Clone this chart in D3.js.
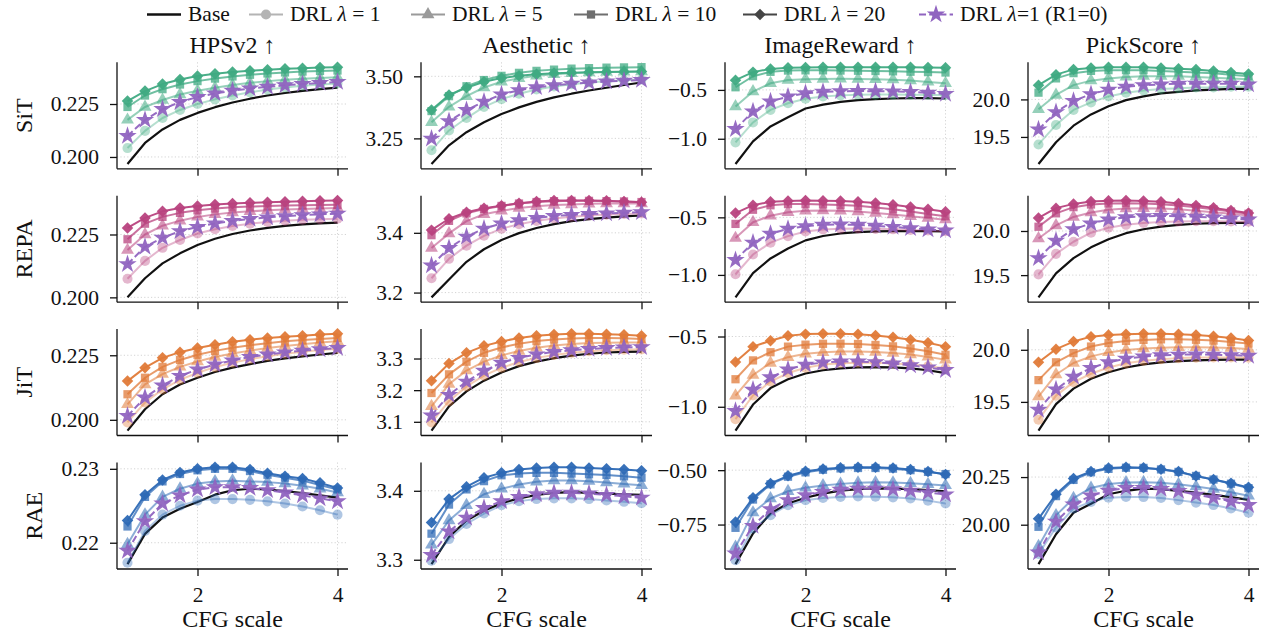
<!DOCTYPE html>
<html>
<head>
<meta charset="utf-8">
<script src="https://cdn.jsdelivr.net/npm/d3@7"></script>
<style>
  html, body { margin: 0; padding: 0; background: #fff; }
  svg { display: block; }
  svg text { font-family: "Liberation Serif", "DejaVu Serif", serif; }
</style>
</head>
<body>
<svg id="chart" width="1262" height="635"></svg>
<script>
// ---------- data ----------
const cfgScale = [1, 1.25, 1.5, 1.75, 2, 2.25, 2.5, 2.75, 3, 3.25, 3.5, 3.75, 4];
const xTicks = [2, 4];
const models = ["SiT", "REPA", "JiT", "RAE"];
const metrics = ["HPSv2", "Aesthetic", "ImageReward", "PickScore"];
const seriesLabels = ["Base", "DRL λ = 1", "DRL λ = 5", "DRL λ = 10", "DRL λ = 20", "DRL λ=1 (R1=0)"];

// series order in every panel: Base, λ=1, λ=5, λ=10, λ=20, λ=1 (R1=0)
const sitHPSv2 = [
  [0.1967, 0.2066, 0.2130, 0.2175, 0.2208, 0.2235, 0.2257, 0.2275, 0.2290, 0.2302, 0.2312, 0.2320, 0.2327],
  [0.2042, 0.2123, 0.2184, 0.2222, 0.2250, 0.2272, 0.2290, 0.2305, 0.2318, 0.2328, 0.2336, 0.2342, 0.2347],
  [0.2175, 0.2236, 0.2269, 0.2295, 0.2313, 0.2327, 0.2340, 0.2350, 0.2358, 0.2364, 0.2369, 0.2373, 0.2376],
  [0.2236, 0.2290, 0.2320, 0.2342, 0.2358, 0.2370, 0.2380, 0.2388, 0.2394, 0.2399, 0.2403, 0.2406, 0.2408],
  [0.2264, 0.2311, 0.2344, 0.2366, 0.2382, 0.2393, 0.2401, 0.2407, 0.2412, 0.2416, 0.2419, 0.2422, 0.2424],
  [0.2099, 0.2175, 0.2226, 0.2259, 0.2283, 0.2300, 0.2313, 0.2323, 0.2331, 0.2338, 0.2344, 0.2349, 0.2354]
];
const sitAesthetic = [
  [3.147, 3.222, 3.275, 3.315, 3.348, 3.375, 3.397, 3.415, 3.430, 3.443, 3.454, 3.465, 3.475],
  [3.202, 3.282, 3.332, 3.377, 3.408, 3.430, 3.447, 3.459, 3.468, 3.475, 3.480, 3.484, 3.487],
  [3.315, 3.377, 3.420, 3.455, 3.478, 3.492, 3.502, 3.508, 3.512, 3.515, 3.517, 3.518, 3.519],
  [3.360, 3.420, 3.460, 3.485, 3.502, 3.514, 3.522, 3.527, 3.531, 3.533, 3.535, 3.536, 3.537],
  [3.364, 3.425, 3.454, 3.478, 3.493, 3.502, 3.508, 3.512, 3.514, 3.516, 3.517, 3.518, 3.519],
  [3.249, 3.319, 3.364, 3.398, 3.427, 3.444, 3.456, 3.464, 3.470, 3.475, 3.479, 3.482, 3.485]
];
const sitImageReward = [
  [-1.258, -1.027, -0.874, -0.779, -0.690, -0.650, -0.622, -0.604, -0.594, -0.588, -0.585, -0.585, -0.588],
  [-1.037, -0.833, -0.704, -0.636, -0.590, -0.568, -0.556, -0.550, -0.548, -0.548, -0.549, -0.551, -0.553],
  [-0.670, -0.517, -0.432, -0.398, -0.391, -0.388, -0.387, -0.388, -0.390, -0.395, -0.405, -0.418, -0.432],
  [-0.473, -0.360, -0.315, -0.302, -0.300, -0.300, -0.302, -0.304, -0.307, -0.310, -0.314, -0.318, -0.322],
  [-0.400, -0.318, -0.285, -0.274, -0.270, -0.268, -0.267, -0.267, -0.267, -0.268, -0.269, -0.270, -0.272],
  [-0.901, -0.721, -0.619, -0.568, -0.534, -0.520, -0.514, -0.512, -0.513, -0.516, -0.521, -0.530, -0.541]
];
const sitPickScore = [
  [19.14, 19.43, 19.65, 19.80, 19.91, 19.99, 20.04, 20.08, 20.10, 20.12, 20.13, 20.14, 20.14],
  [19.40, 19.66, 19.86, 19.96, 20.04, 20.09, 20.12, 20.14, 20.15, 20.16, 20.16, 20.17, 20.17],
  [19.87, 20.06, 20.19, 20.25, 20.28, 20.30, 20.31, 20.31, 20.31, 20.30, 20.29, 20.28, 20.27],
  [20.09, 20.28, 20.35, 20.38, 20.39, 20.39, 20.39, 20.38, 20.37, 20.36, 20.35, 20.33, 20.31],
  [20.19, 20.33, 20.40, 20.42, 20.43, 20.43, 20.43, 20.42, 20.41, 20.40, 20.38, 20.36, 20.34],
  [19.60, 19.83, 19.98, 20.07, 20.13, 20.17, 20.19, 20.20, 20.21, 20.21, 20.21, 20.21, 20.20]
];

const repaHPSv2 = [
  [0.2000, 0.2076, 0.2135, 0.2175, 0.2208, 0.2233, 0.2252, 0.2266, 0.2276, 0.2284, 0.2290, 0.2294, 0.2297],
  [0.2074, 0.2145, 0.2197, 0.2228, 0.2254, 0.2271, 0.2284, 0.2293, 0.2300, 0.2305, 0.2309, 0.2311, 0.2313],
  [0.2188, 0.2250, 0.2285, 0.2305, 0.2320, 0.2330, 0.2337, 0.2342, 0.2346, 0.2349, 0.2351, 0.2353, 0.2355],
  [0.2231, 0.2293, 0.2320, 0.2336, 0.2346, 0.2353, 0.2358, 0.2361, 0.2363, 0.2365, 0.2366, 0.2367, 0.2368],
  [0.2276, 0.2316, 0.2342, 0.2355, 0.2363, 0.2369, 0.2373, 0.2376, 0.2378, 0.2380, 0.2382, 0.2384, 0.2385],
  [0.2132, 0.2201, 0.2237, 0.2263, 0.2280, 0.2294, 0.2304, 0.2312, 0.2318, 0.2323, 0.2327, 0.2330, 0.2333]
];
const repaAesthetic = [
  [3.184, 3.244, 3.303, 3.345, 3.376, 3.399, 3.416, 3.429, 3.439, 3.446, 3.451, 3.455, 3.458],
  [3.248, 3.313, 3.357, 3.390, 3.414, 3.429, 3.440, 3.448, 3.454, 3.458, 3.461, 3.463, 3.465],
  [3.349, 3.398, 3.439, 3.462, 3.474, 3.483, 3.489, 3.493, 3.495, 3.497, 3.498, 3.498, 3.498],
  [3.392, 3.440, 3.465, 3.480, 3.490, 3.498, 3.503, 3.506, 3.507, 3.507, 3.506, 3.505, 3.503],
  [3.409, 3.447, 3.469, 3.482, 3.491, 3.499, 3.505, 3.508, 3.508, 3.508, 3.507, 3.505, 3.502],
  [3.291, 3.349, 3.387, 3.414, 3.431, 3.442, 3.450, 3.456, 3.460, 3.463, 3.465, 3.467, 3.469]
];
const repaImageReward = [
  [-1.195, -0.985, -0.857, -0.771, -0.700, -0.662, -0.640, -0.628, -0.622, -0.620, -0.620, -0.620, -0.621],
  [-0.994, -0.823, -0.720, -0.663, -0.623, -0.605, -0.598, -0.597, -0.600, -0.604, -0.609, -0.614, -0.620],
  [-0.680, -0.543, -0.486, -0.455, -0.443, -0.440, -0.443, -0.450, -0.463, -0.476, -0.490, -0.505, -0.520],
  [-0.557, -0.434, -0.395, -0.385, -0.385, -0.388, -0.393, -0.400, -0.415, -0.430, -0.450, -0.470, -0.490],
  [-0.463, -0.394, -0.365, -0.357, -0.354, -0.355, -0.358, -0.365, -0.375, -0.390, -0.410, -0.430, -0.451],
  [-0.871, -0.720, -0.643, -0.600, -0.577, -0.565, -0.562, -0.565, -0.573, -0.583, -0.595, -0.605, -0.614]
];
const repaPickScore = [
  [19.248, 19.519, 19.692, 19.815, 19.907, 19.975, 20.020, 20.050, 20.070, 20.082, 20.089, 20.092, 20.093],
  [19.508, 19.741, 19.878, 19.981, 20.037, 20.070, 20.090, 20.102, 20.108, 20.110, 20.110, 20.108, 20.105],
  [19.915, 20.063, 20.159, 20.210, 20.241, 20.255, 20.258, 20.255, 20.245, 20.230, 20.212, 20.195, 20.175],
  [20.048, 20.200, 20.270, 20.300, 20.312, 20.315, 20.312, 20.302, 20.288, 20.268, 20.245, 20.220, 20.195],
  [20.148, 20.259, 20.307, 20.333, 20.344, 20.345, 20.340, 20.330, 20.312, 20.290, 20.262, 20.232, 20.204],
  [19.692, 19.889, 20.019, 20.085, 20.130, 20.155, 20.167, 20.170, 20.168, 20.162, 20.152, 20.142, 20.130]
];

const jitHPSv2 = [
  [0.1958, 0.2041, 0.2099, 0.2137, 0.2163, 0.2185, 0.2202, 0.2216, 0.2228, 0.2238, 0.2246, 0.2253, 0.2259],
  [0.1990, 0.2067, 0.2118, 0.2155, 0.2182, 0.2204, 0.2221, 0.2235, 0.2246, 0.2256, 0.2264, 0.2270, 0.2275],
  [0.2060, 0.2137, 0.2177, 0.2205, 0.2226, 0.2243, 0.2257, 0.2268, 0.2278, 0.2286, 0.2293, 0.2299, 0.2304],
  [0.2099, 0.2163, 0.2205, 0.2232, 0.2252, 0.2267, 0.2279, 0.2289, 0.2297, 0.2304, 0.2309, 0.2313, 0.2317],
  [0.2150, 0.2202, 0.2240, 0.2262, 0.2278, 0.2291, 0.2302, 0.2310, 0.2317, 0.2322, 0.2326, 0.2330, 0.2333],
  [0.2015, 0.2086, 0.2133, 0.2170, 0.2195, 0.2214, 0.2230, 0.2243, 0.2253, 0.2261, 0.2268, 0.2273, 0.2278]
];
const jitAesthetic = [
  [3.072, 3.149, 3.196, 3.230, 3.256, 3.276, 3.290, 3.301, 3.309, 3.315, 3.319, 3.321, 3.322],
  [3.098, 3.165, 3.212, 3.246, 3.271, 3.289, 3.302, 3.311, 3.318, 3.323, 3.326, 3.328, 3.329],
  [3.149, 3.219, 3.262, 3.290, 3.310, 3.324, 3.334, 3.341, 3.346, 3.349, 3.350, 3.351, 3.351],
  [3.191, 3.250, 3.290, 3.318, 3.335, 3.347, 3.355, 3.360, 3.363, 3.365, 3.365, 3.364, 3.362],
  [3.230, 3.284, 3.318, 3.340, 3.354, 3.365, 3.372, 3.376, 3.378, 3.378, 3.377, 3.375, 3.372],
  [3.120, 3.185, 3.227, 3.261, 3.287, 3.302, 3.313, 3.321, 3.326, 3.330, 3.333, 3.335, 3.336]
];
const jitImageReward = [
  [-1.170, -0.984, -0.867, -0.804, -0.763, -0.740, -0.727, -0.720, -0.718, -0.720, -0.727, -0.740, -0.760],
  [-1.088, -0.920, -0.820, -0.760, -0.722, -0.700, -0.690, -0.686, -0.687, -0.692, -0.700, -0.712, -0.726],
  [-0.921, -0.774, -0.688, -0.647, -0.623, -0.612, -0.607, -0.607, -0.610, -0.617, -0.628, -0.645, -0.665],
  [-0.804, -0.670, -0.612, -0.572, -0.558, -0.552, -0.551, -0.553, -0.560, -0.570, -0.585, -0.605, -0.630],
  [-0.681, -0.572, -0.530, -0.495, -0.483, -0.481, -0.481, -0.484, -0.492, -0.505, -0.523, -0.545, -0.572],
  [-1.030, -0.879, -0.790, -0.735, -0.700, -0.685, -0.678, -0.678, -0.683, -0.692, -0.705, -0.720, -0.739]
];
const jitPickScore = [
  [19.224, 19.478, 19.627, 19.722, 19.785, 19.830, 19.860, 19.880, 19.892, 19.899, 19.903, 19.905, 19.905],
  [19.329, 19.560, 19.690, 19.770, 19.830, 19.870, 19.895, 19.910, 19.920, 19.925, 19.927, 19.927, 19.925],
  [19.551, 19.763, 19.873, 19.937, 19.975, 19.998, 20.012, 20.020, 20.024, 20.025, 20.022, 20.016, 20.008],
  [19.709, 19.880, 19.968, 20.031, 20.065, 20.085, 20.095, 20.100, 20.100, 20.096, 20.088, 20.075, 20.060],
  [19.880, 20.006, 20.079, 20.126, 20.142, 20.150, 20.153, 20.153, 20.150, 20.142, 20.130, 20.112, 20.090],
  [19.424, 19.620, 19.741, 19.826, 19.880, 19.915, 19.935, 19.947, 19.953, 19.955, 19.953, 19.948, 19.942]
];

const raeHPSv2 = [
  [0.2171, 0.2212, 0.2234, 0.2246, 0.2255, 0.2265, 0.2271, 0.2273, 0.2272, 0.2270, 0.2267, 0.2264, 0.2261],
  [0.2173, 0.2216, 0.2238, 0.2250, 0.2257, 0.2259, 0.2259, 0.2258, 0.2256, 0.2253, 0.2249, 0.2244, 0.2238],
  [0.2198, 0.2238, 0.2262, 0.2273, 0.2280, 0.2283, 0.2284, 0.2283, 0.2282, 0.2280, 0.2277, 0.2273, 0.2268],
  [0.2222, 0.2262, 0.2283, 0.2293, 0.2298, 0.2300, 0.2300, 0.2297, 0.2292, 0.2288, 0.2284, 0.2278, 0.2272],
  [0.2230, 0.2265, 0.2285, 0.2295, 0.2300, 0.2302, 0.2302, 0.2299, 0.2294, 0.2290, 0.2287, 0.2281, 0.2274],
  [0.2189, 0.2229, 0.2253, 0.2264, 0.2272, 0.2275, 0.2275, 0.2274, 0.2271, 0.2268, 0.2264, 0.2260, 0.2256]
];
const raeAesthetic = [
  [3.2936, 3.333, 3.357, 3.371, 3.382, 3.389, 3.394, 3.397, 3.398, 3.397, 3.396, 3.395, 3.394],
  [3.2985, 3.330, 3.352, 3.367, 3.379, 3.385, 3.388, 3.389, 3.389, 3.388, 3.386, 3.384, 3.382],
  [3.3216, 3.357, 3.379, 3.395, 3.403, 3.409, 3.413, 3.415, 3.415, 3.414, 3.412, 3.410, 3.408],
  [3.3378, 3.380, 3.402, 3.414, 3.4225, 3.425, 3.426, 3.426, 3.425, 3.424, 3.423, 3.421, 3.419],
  [3.354, 3.388, 3.406, 3.419, 3.426, 3.431, 3.433, 3.434, 3.434, 3.433, 3.432, 3.431, 3.429],
  [3.307, 3.341, 3.361, 3.375, 3.385, 3.391, 3.395, 3.397, 3.397, 3.396, 3.394, 3.392, 3.390]
];
const raeImageReward = [
  [-0.932, -0.791, -0.699, -0.653, -0.627, -0.608, -0.594, -0.587, -0.584, -0.585, -0.587, -0.592, -0.597],
  [-0.914, -0.768, -0.707, -0.661, -0.638, -0.628, -0.623, -0.621, -0.622, -0.625, -0.630, -0.640, -0.653],
  [-0.853, -0.695, -0.630, -0.597, -0.581, -0.570, -0.563, -0.558, -0.556, -0.557, -0.560, -0.565, -0.570],
  [-0.765, -0.635, -0.565, -0.530, -0.510, -0.498, -0.492, -0.490, -0.490, -0.493, -0.500, -0.508, -0.518],
  [-0.738, -0.627, -0.561, -0.526, -0.505, -0.495, -0.489, -0.487, -0.487, -0.490, -0.497, -0.506, -0.520],
  [-0.883, -0.756, -0.679, -0.638, -0.615, -0.600, -0.590, -0.585, -0.585, -0.588, -0.594, -0.603, -0.612]
];
const raePickScore = [
  [19.793, 19.950, 20.063, 20.110, 20.160, 20.178, 20.189, 20.187, 20.178, 20.168, 20.157, 20.145, 20.130],
  [19.847, 19.985, 20.085, 20.120, 20.142, 20.146, 20.145, 20.140, 20.129, 20.116, 20.103, 20.085, 20.063],
  [19.887, 20.049, 20.139, 20.193, 20.214, 20.222, 20.223, 20.220, 20.212, 20.200, 20.187, 20.170, 20.152],
  [19.989, 20.150, 20.235, 20.275, 20.293, 20.299, 20.298, 20.290, 20.277, 20.256, 20.237, 20.215, 20.192],
  [20.031, 20.160, 20.243, 20.279, 20.297, 20.301, 20.299, 20.291, 20.279, 20.255, 20.237, 20.217, 20.196],
  [19.854, 20.016, 20.106, 20.153, 20.178, 20.193, 20.193, 20.188, 20.177, 20.157, 20.142, 20.123, 20.103]
];

// y tick labels, one list per panel (columns: HPSv2, Aesthetic, ImageReward, PickScore)
const sitTicks  = [["0.200", "0.225"], ["3.25", "3.50"], ["−1.0", "−0.5"], ["19.5", "20.0"]];
const repaTicks = [["0.200", "0.225"], ["3.2", "3.4"], ["−1.0", "−0.5"], ["19.5", "20.0"]];
const jitTicks  = [["0.200", "0.225"], ["3.1", "3.2", "3.3"], ["−1.0", "−0.5"], ["19.5", "20.0"]];
const raeTicks  = [["0.22", "0.23"], ["3.3", "3.4"], ["−0.75", "−0.50"], ["20.00", "20.25"]];

// ---------- tables built from the arrays ----------
const panelData = [
  [sitHPSv2, sitAesthetic, sitImageReward, sitPickScore],
  [repaHPSv2, repaAesthetic, repaImageReward, repaPickScore],
  [jitHPSv2, jitAesthetic, jitImageReward, jitPickScore],
  [raeHPSv2, raeAesthetic, raeImageReward, raePickScore]
];
const panelTicks = [sitTicks, repaTicks, jitTicks, raeTicks];

// ---------- styling ----------
const SERIF = "Liberation Serif, DejaVu Serif, serif";
const rowColors = ["#3faa82", "#b8427e", "#e07a38", "#2d69b5"];
const purple = "#9064c0";
const legendGreys = ["#111111", "#b4b4b4", "#9a9a9a", "#6e6e6e", "#454545", purple];
const seriesStyle = [
  { alpha: 1.0,  symbol: null,               size: 0,   dash: null, rot: 0 },
  { alpha: 0.38, symbol: d3.symbolCircle,    size: 80,  dash: null, rot: 0 },
  { alpha: 0.55, symbol: d3.symbolTriangle,  size: 72,  dash: null, rot: 0 },
  { alpha: 0.75, symbol: d3.symbolSquare,    size: 68,  dash: null, rot: 0 },
  { alpha: 0.95, symbol: d3.symbolSquare,    size: 66,  dash: null, rot: 45 },
  { alpha: 0.95, symbol: d3.symbolStar,      size: 105, dash: "7,3.2", rot: 0 }
];

const FONT_TICK = 21.5, FONT_LABEL = 24, FONT_LEGEND = 21.5;
const axW = 231, axH = 106.5;
const colLeft = [117, 421, 725, 1028];
const rowTop = [62.3, 195.7, 329, 462.5];
// left edge of each legend label
const legendTextX = [188, 290, 452, 615, 784, 960];

const svg = d3.select("#chart");

function styleAxisText(g, show) {
  g.attr("font-family", SERIF).attr("font-size", FONT_TICK);
  g.selectAll(".tick text")
    .attr("font-family", SERIF)
    .attr("font-size", FONT_TICK)
    .attr("fill", "#111")
    .style("display", show ? null : "none");
  g.selectAll(".tick line").attr("stroke", "#111").attr("stroke-width", 1.3);
  g.select(".domain").attr("stroke", "#111").attr("stroke-width", 1.3);
}

function addText(parent, x, y, size, str) {
  return parent.append("text")
    .attr("x", x).attr("y", y)
    .attr("font-family", SERIF).attr("font-size", size).attr("fill", "#111")
    .text(str);
}

panelData.forEach((rowArr, r) => {
  rowArr.forEach((vals, c) => {
    const left = colLeft[c], top = rowTop[r];
    const color = rowColors[r];
    const labels = panelTicks[r][c];
    const tickVals = labels.map(s => +s.replace("−", "-"));

    const all = vals.flat();
    const lo = d3.min(all), hi = d3.max(all), pad = (hi - lo) * 0.05;
    const x = d3.scaleLinear().domain([0.85, 4.15]).range([left, left + axW]);
    const y = d3.scaleLinear().domain([lo - pad, hi + pad]).range([top + axH, top]);

    const g = svg.append("g");

    // dotted grid
    const grid = g.append("g").attr("stroke", "#cfcfcf").attr("stroke-width", 0.9)
      .attr("stroke-dasharray", "1.2,2.2");
    tickVals.forEach(v => grid.append("line")
      .attr("x1", left).attr("x2", left + axW).attr("y1", y(v)).attr("y2", y(v)));
    xTicks.forEach(v => grid.append("line")
      .attr("x1", x(v)).attr("x2", x(v)).attr("y1", top).attr("y2", top + axH));

    // series
    const line = d3.line().x((d, i) => x(cfgScale[i])).y(d => y(d));
    vals.forEach((arr, s) => {
      const st = seriesStyle[s];
      const col = s === 0 ? "#111111" : (s === 5 ? purple : color);
      g.append("path")
        .attr("d", line(arr))
        .attr("fill", "none")
        .attr("stroke", col)
        .attr("stroke-width", s === 0 ? 2.2 : 2)
        .attr("stroke-opacity", st.alpha)
        .attr("stroke-dasharray", st.dash)
        .attr("stroke-linejoin", "round");
      if (st.symbol) {
        const sym = d3.symbol().type(st.symbol).size(st.size)();
        g.append("g").selectAll("path").data(arr).join("path")
          .attr("d", sym)
          .attr("transform", (d, i) => `translate(${x(cfgScale[i])},${y(d)}) rotate(${st.rot})`)
          .attr("fill", col)
          .attr("fill-opacity", st.alpha);
      }
    });

    // axes
    const ya = g.append("g").attr("transform", `translate(${left},0)`)
      .call(d3.axisLeft(y).tickValues(tickVals).tickFormat((d, i) => labels[i])
        .tickSize(7).tickPadding(11).tickSizeOuter(0));
    ya.select(".domain").attr("d", `M0,${top}V${top + axH}`);
    styleAxisText(ya, true);

    const xa = g.append("g").attr("transform", `translate(0,${top + axH})`)
      .call(d3.axisBottom(x).tickValues(xTicks).tickFormat(d3.format("d"))
        .tickSize(7).tickPadding(11).tickSizeOuter(0));
    xa.select(".domain").attr("d", `M${left},0H${left + axW}`);
    styleAxisText(xa, r === 3);

    // column titles
    if (r === 0) {
      addText(svg, left + axW / 2, top - 9.5, FONT_LABEL, metrics[c] + " ↑")
        .attr("text-anchor", "middle");
    }
    // x-axis label
    if (r === 3) {
      addText(svg, left + axW / 2, 627, FONT_LABEL, "CFG scale")
        .attr("text-anchor", "middle");
    }
    // row labels on the left of the first column
    if (c === 0) {
      let minX = Infinity;
      ya.selectAll(".tick text").each(function () {
        const b = this.getBBox();
        minX = Math.min(minX, b.x);
      });
      const bx = left + minX - 19;
      const cy = top + axH / 2;
      addText(svg, bx, cy, FONT_LABEL, models[r])
        .attr("transform", `rotate(-90,${bx},${cy})`)
        .attr("text-anchor", "middle");
    }
  });
});

// ---------- legend ----------
const legend = svg.append("g");
const handleLen = 34, textGap = 7, legendY = 21, handleY = 14.5;
seriesLabels.forEach((lab, s) => {
  const tx = legendTextX[s];
  const hx = tx - textGap - handleLen;
  const st = seriesStyle[s];
  const col = legendGreys[s];
  legend.append("line").attr("x1", hx).attr("x2", hx + handleLen)
    .attr("y1", handleY).attr("y2", handleY)
    .attr("stroke", col).attr("stroke-width", s === 0 ? 2.4 : 2)
    .attr("stroke-dasharray", st.dash);
  if (st.symbol) {
    legend.append("path").attr("d", d3.symbol().type(st.symbol).size(st.size)())
      .attr("transform", `translate(${hx + handleLen / 2},${handleY}) rotate(${st.rot})`)
      .attr("fill", col);
  }
  const t = addText(legend, tx, legendY, FONT_LEGEND, null);
  const m = lab.match(/^(DRL )(λ)(.*)$/);
  if (m) {
    t.append("tspan").text(m[1]);
    t.append("tspan").attr("font-style", "italic").text(m[2]);
    t.append("tspan").text(m[3]);
  } else {
    t.text(lab);
  }
});
</script>
</body>
</html>
